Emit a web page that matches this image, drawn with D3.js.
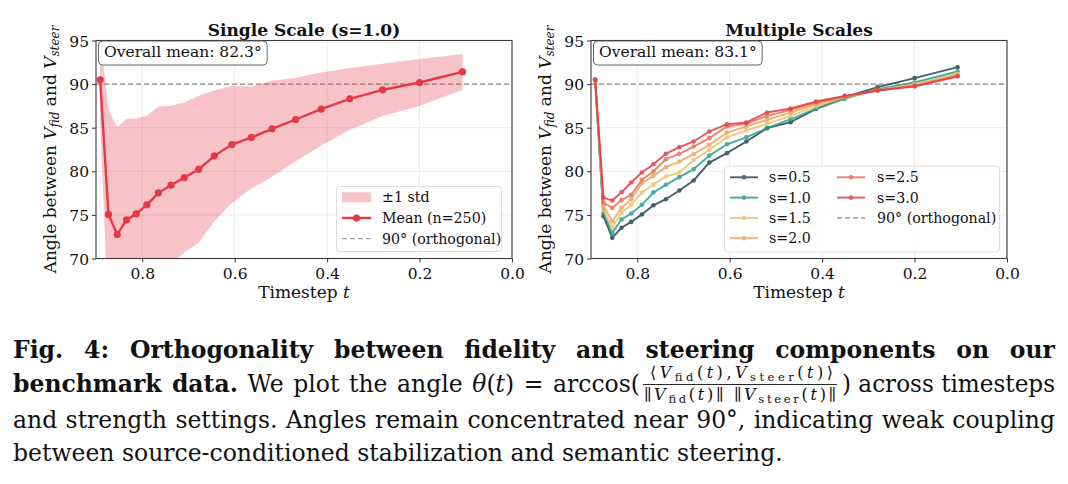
<!DOCTYPE html>
<html>
<head>
<meta charset="utf-8">
<script src="https://cdn.jsdelivr.net/npm/d3@7"></script>
<style>
body { margin: 0; background: #fff; }
</style>
</head>
<body>
<svg id="fig" width="1068" height="484"></svg>
<script>
// timesteps shared by both panels
const timesteps = [0.891, 0.873, 0.854, 0.834, 0.813, 0.790, 0.765, 0.738, 0.709, 0.678,
                   0.644, 0.606, 0.564, 0.519, 0.468, 0.413, 0.351, 0.280, 0.200, 0.107];

// single scale s=1.0: mean and std over 250 samples
const meanS1 = [90.5, 75.05, 72.75, 74.43, 75.12, 76.15, 77.53, 78.41, 79.29, 80.21,
                81.77, 83.07, 83.88, 84.87, 85.94, 87.13, 88.31, 89.34, 90.18, 91.41];
const stdS1 = [5.0, 12.0, 12.3, 11.6, 10.9, 10.25, 9.9, 9.1, 8.6, 8.44,
               7.5, 6.7, 5.85, 5.5, 4.8, 4.2, 3.55, 3.0, 2.7, 2.05];

// multiple scales
const scaleNames = ['s=0.5', 's=1.0', 's=1.5', 's=2.0', 's=2.5', 's=3.0'];
const scaleColors = ['#264653', '#2a9d8f', '#e9c46a', '#f4a261', '#e76f51', '#e63946'];
const s05 = [90.5, 74.85, 72.37, 73.52, 74.2, 75.05, 76.1, 76.8, 77.8, 78.95,
             81.0, 82.08, 83.42, 84.95, 85.63, 87.16, 88.5, 89.65, 90.68, 91.94];
const s10 = [90.5, 75.2, 72.95, 74.47, 75.16, 76.15, 77.57, 78.45, 79.33, 80.24,
             81.8, 83.1, 83.9, 84.95, 85.98, 87.16, 88.3, 89.42, 90.18, 91.44];
const s15 = [90.5, 75.54, 73.52, 75.24, 76.15, 77.57, 78.5, 79.4, 79.86, 81.3,
             82.46, 83.9, 84.68, 85.44, 86.36, 87.43, 88.5, 89.27, 90.0, 91.18];
const s20 = [90.5, 76.0, 74.28, 75.8, 76.8, 78.64, 79.48, 80.47, 81.12, 81.96,
             83.03, 84.45, 85.14, 85.9, 86.74, 87.7, 88.58, 89.27, 89.88, 91.06];
const s25 = [90.5, 76.39, 75.8, 76.69, 77.3, 79.02, 79.98, 81.39, 82.0, 82.84,
             83.8, 85.14, 85.44, 86.36, 87.05, 87.89, 88.58, 89.27, 89.8, 90.95];
const s30 = [90.5, 76.96, 76.65, 77.6, 78.72, 79.86, 80.82, 82.0, 82.77, 83.42,
             84.56, 85.4, 85.6, 86.74, 87.2, 88.0, 88.65, 89.27, 89.73, 90.87];
const scaleSeries = [s05, s10, s15, s20, s25, s30];

const xTicks = [0.8, 0.6, 0.4, 0.2, 0.0];
const yTicks = [70, 75, 80, 85, 90, 95];
const orthogonal = 90;

const serif = "'DejaVu Serif', serif";
const red = '#e63946';
const plotTop = 40.5;
const plotBottom = 258.5;

const svg = d3.select('#fig');

function addYLabel(g, x) {
    const t = g.append('text')
        .attr('transform', `translate(${x},${(plotTop + plotBottom) / 2}) rotate(-90)`)
        .attr('text-anchor', 'middle')
        .attr('font-family', serif)
        .attr('font-size', 17)
        .attr('fill', '#111');
    t.append('tspan').text('Angle between ');
    t.append('tspan').attr('font-style', 'italic').text('V');
    t.append('tspan').attr('font-style', 'italic').attr('font-size', 12).attr('dy', 3).text('fid');
    t.append('tspan').attr('dy', -3).text(' and ');
    t.append('tspan').attr('font-style', 'italic').text('V');
    t.append('tspan').attr('font-style', 'italic').attr('font-size', 12).attr('dy', 3).text('steer');
}

function drawPanel(left, right, title, meanText, id) {
    const x = d3.scaleLinear().domain([0.9, 0]).range([left, right]);
    const y = d3.scaleLinear().domain([70, 95]).range([plotBottom, plotTop]);
    const g = svg.append('g');

    // grid
    g.append('g').selectAll('line').data(xTicks).join('line')
        .attr('x1', d => x(d)).attr('x2', d => x(d))
        .attr('y1', plotTop).attr('y2', plotBottom)
        .attr('stroke', '#e6e6e6').attr('stroke-width', 0.8);
    g.append('g').selectAll('line').data(yTicks).join('line')
        .attr('x1', left).attr('x2', right)
        .attr('y1', d => y(d)).attr('y2', d => y(d))
        .attr('stroke', '#e6e6e6').attr('stroke-width', 0.8);

    g.append('clipPath').attr('id', id)
        .append('rect').attr('x', left).attr('y', plotTop)
        .attr('width', right - left).attr('height', plotBottom - plotTop);

    // axes
    const xAxis = g.append('g')
        .attr('transform', `translate(0,${plotBottom})`)
        .call(d3.axisBottom(x).tickValues(xTicks).tickFormat(d3.format('.1f')).tickSize(4).tickPadding(3));
    const yAxis = g.append('g')
        .attr('transform', `translate(${left},0)`)
        .call(d3.axisLeft(y).tickValues(yTicks).tickSize(4).tickPadding(3));
    [xAxis, yAxis].forEach(a => {
        a.select('.domain').remove();
        a.selectAll('line').attr('stroke', '#333');
        a.selectAll('text').attr('font-family', serif).attr('font-size', 15.5).attr('fill', '#111');
    });
    xAxis.selectAll('text').attr('dy', '0.9em');
    yAxis.selectAll('text').attr('dy', '0.36em');

    // orthogonal reference
    g.append('line')
        .attr('x1', left).attr('x2', right)
        .attr('y1', y(orthogonal)).attr('y2', y(orthogonal))
        .attr('stroke', '#8a8a8a').attr('stroke-width', 1.1).attr('stroke-dasharray', '5,3');

    g.append('text')
        .attr('x', (left + right) / 2).attr('y', 36)
        .attr('text-anchor', 'middle')
        .attr('font-family', serif).attr('font-weight', 'bold').attr('font-size', 17)
        .attr('fill', '#111')
        .text(title);

    const xl = g.append('text')
        .attr('x', (left + right) / 2).attr('y', 297.5)
        .attr('text-anchor', 'middle')
        .attr('font-family', serif).attr('font-size', 17).attr('fill', '#111');
    xl.append('tspan').text('Timestep ');
    xl.append('tspan').attr('font-style', 'italic').text('t');

    addYLabel(g, left - 40);

    return { g, x, y, meanText };
}

function drawFrame(p, left, right) {
    p.g.append('rect')
        .attr('x', left).attr('y', plotTop)
        .attr('width', right - left).attr('height', plotBottom - plotTop)
        .attr('fill', 'none').attr('stroke', '#3a3a3a').attr('stroke-width', 1.1);
    // overall mean box
    const bx = left + 2.5;
    const box = p.g.append('g');
    const txt = box.append('text')
        .attr('x', bx + 5.5).attr('y', 57)
        .attr('font-family', serif).attr('font-size', 15.5).attr('fill', '#111')
        .text(p.meanText);
    const w = txt.node().getComputedTextLength();
    box.insert('rect', 'text')
        .attr('x', bx).attr('y', plotTop + 0.5)
        .attr('width', w + 11).attr('height', 24)
        .attr('rx', 4)
        .attr('fill', 'white').attr('fill-opacity', 0.85)
        .attr('stroke', '#555').attr('stroke-width', 0.9);
}

// ---------- left panel ----------
const L = { left: 96, right: 512 };
const p1 = drawPanel(L.left, L.right, 'Single Scale (s=1.0)', 'Overall mean: 82.3°', 'clipL');
const idx = d3.range(timesteps.length);

p1.g.append('path')
    .datum(idx)
    .attr('clip-path', 'url(#clipL)')
    .attr('fill', red).attr('fill-opacity', 0.3)
    .attr('d', d3.area()
        .x(i => p1.x(timesteps[i]))
        .y0(i => p1.y(meanS1[i] - stdS1[i]))
        .y1(i => p1.y(meanS1[i] + stdS1[i])));

p1.g.append('path')
    .datum(idx)
    .attr('fill', 'none').attr('stroke', red).attr('stroke-width', 2.4)
    .attr('d', d3.line().x(i => p1.x(timesteps[i])).y(i => p1.y(meanS1[i])));
p1.g.append('g').selectAll('circle').data(idx).join('circle')
    .attr('cx', i => p1.x(timesteps[i])).attr('cy', i => p1.y(meanS1[i]))
    .attr('r', 3.6).attr('fill', red);

drawFrame(p1, L.left, L.right);

// left legend
const lg1 = p1.g.append('g');
lg1.append('rect')
    .attr('x', 336.5).attr('y', 186.5).attr('width', 165).attr('height', 65).attr('rx', 3)
    .attr('fill', 'white').attr('fill-opacity', 0.85)
    .attr('stroke', '#d9d9d9').attr('stroke-width', 0.9);
const rowsL = [197.3, 218, 238.7];
lg1.append('rect').attr('x', 342).attr('y', rowsL[0] - 5).attr('width', 29).attr('height', 10)
    .attr('fill', red).attr('fill-opacity', 0.3);
lg1.append('line').attr('x1', 342).attr('x2', 371).attr('y1', rowsL[1]).attr('y2', rowsL[1])
    .attr('stroke', red).attr('stroke-width', 2.4);
lg1.append('circle').attr('cx', 356.5).attr('cy', rowsL[1]).attr('r', 3.6).attr('fill', red);
lg1.append('line').attr('x1', 342).attr('x2', 371).attr('y1', rowsL[2]).attr('y2', rowsL[2])
    .attr('stroke', '#8a8a8a').attr('stroke-width', 1.1).attr('stroke-dasharray', '5,3');
lg1.selectAll('text.lab').data(['±1 std', 'Mean (n=250)', '90° (orthogonal)']).join('text')
    .attr('x', 382).attr('y', (d, i) => rowsL[i] + 5)
    .attr('font-family', serif).attr('font-size', 14.2).attr('fill', '#111')
    .text(d => d);

// ---------- right panel ----------
const R = { left: 591, right: 1007 };
const p2 = drawPanel(R.left, R.right, 'Multiple Scales', 'Overall mean: 83.1°', 'clipR');

scaleSeries.forEach((vals, k) => {
    const sg = p2.g.append('g').attr('opacity', 0.85);
    sg.append('path')
        .datum(idx)
        .attr('fill', 'none').attr('stroke', scaleColors[k]).attr('stroke-width', 1.9)
        .attr('d', d3.line().x(i => p2.x(timesteps[i])).y(i => p2.y(vals[i])));
    sg.selectAll('circle').data(idx).join('circle')
        .attr('cx', i => p2.x(timesteps[i])).attr('cy', i => p2.y(vals[i]))
        .attr('r', 2.3).attr('fill', scaleColors[k]);
});

drawFrame(p2, R.left, R.right);

// right legend
const lg2 = p2.g.append('g');
lg2.append('rect')
    .attr('x', 724.5).attr('y', 166).attr('width', 275).attr('height', 86).attr('rx', 3)
    .attr('fill', 'white').attr('fill-opacity', 0.85)
    .attr('stroke', '#d9d9d9').attr('stroke-width', 0.9);
const rowsR = [177.3, 197.6, 217.9, 238.2];
const legendItems = scaleNames.map((n, k) => ({
    name: n, color: scaleColors[k],
    col: k < 4 ? 0 : 1, row: k < 4 ? k : k - 4
}));
legendItems.push({ name: '90° (orthogonal)', color: '#8a8a8a', col: 1, row: 2, dashed: true });
const colX = [{ h: 730, t: 769 }, { h: 837, t: 877 }];
legendItems.forEach(it => {
    const cx = colX[it.col];
    const yy = rowsR[it.row];
    const ig = lg2.append('g').attr('opacity', it.dashed ? 1 : 0.85);
    ig.append('line').attr('x1', cx.h).attr('x2', cx.h + 28).attr('y1', yy).attr('y2', yy)
        .attr('stroke', it.color).attr('stroke-width', it.dashed ? 1.1 : 1.9)
        .attr('stroke-dasharray', it.dashed ? '5,3' : null);
    if (!it.dashed) {
        ig.append('circle').attr('cx', cx.h + 14).attr('cy', yy).attr('r', 2.3).attr('fill', it.color);
    }
    lg2.append('text').attr('x', cx.t).attr('y', yy + 5)
        .attr('font-family', serif).attr('font-size', 14.2).attr('fill', '#111')
        .text(it.name);
});

// ---------- caption ----------
const capSize = 23.5;
const capLeft = 13;
const capRight = 1055;
const capColor = '#111';
const cg = svg.append('g')
    .attr('font-family', serif)
    .attr('font-size', capSize).attr('fill', capColor);

// stretch the spaces of a line so that it fills the given width
function justify(t, width) {
    const w = t.node().getComputedTextLength();
    const n = (t.text().match(/ /g) || []).length;
    if (w < width && n > 0) {
        t.style('word-spacing', ((width - w) / n) + 'px');
    } else if (w > width) {
        t.attr('textLength', width).attr('lengthAdjust', 'spacingAndGlyphs');
    }
}
// spread the glyphs of a short formula to the given width
function spread(t, width) {
    const w = t.node().getComputedTextLength();
    t.attr('textLength', width).attr('lengthAdjust', w > width ? 'spacingAndGlyphs' : 'spacing');
}

const line1 = cg.append('text').attr('x', capLeft).attr('y', 358)
    .attr('font-weight', 'bold')
    .text('Fig. 4: Orthogonality between fidelity and steering components on our');
justify(line1, capRight - capLeft);

// line 2 with the fraction
const l2y = 392;
const l2a = cg.append('text').attr('x', capLeft).attr('y', l2y);
l2a.append('tspan').attr('font-weight', 'bold').text('benchmark data.');
l2a.append('tspan').text(' We plot the angle ');
l2a.append('tspan').attr('font-style', 'italic').text('θ');
l2a.append('tspan').text('(');
l2a.append('tspan').attr('font-style', 'italic').text('t');
l2a.append('tspan').text(') = arccos(');
justify(l2a, 640 - capLeft);

const fracL = 643, fracR = 837;
const fs = 16, ss = 11.5;
const num = cg.append('text').attr('x', 650).attr('y', 378).attr('font-size', fs);
num.append('tspan').text('⟨');
num.append('tspan').attr('font-style', 'italic').text('V');
num.append('tspan').attr('font-size', ss).attr('dy', 3).text('fid');
num.append('tspan').attr('dy', -3).text('(');
num.append('tspan').attr('font-style', 'italic').text('t');
num.append('tspan').text('),');
num.append('tspan').attr('font-style', 'italic').text('V');
num.append('tspan').attr('font-size', ss).attr('dy', 3).text('steer');
num.append('tspan').attr('dy', -3).text('(');
num.append('tspan').attr('font-style', 'italic').text('t');
num.append('tspan').text(')⟩');
spread(num, 183);
const den = cg.append('text').attr('x', fracL + 1).attr('y', 400).attr('font-size', fs);
den.append('tspan').text('∥');
den.append('tspan').attr('font-style', 'italic').text('V');
den.append('tspan').attr('font-size', ss).attr('dy', 3).text('fid');
den.append('tspan').attr('dy', -3).text('(');
den.append('tspan').attr('font-style', 'italic').text('t');
den.append('tspan').text(')∥ ∥');
den.append('tspan').attr('font-style', 'italic').text('V');
den.append('tspan').attr('font-size', ss).attr('dy', 3).text('steer');
den.append('tspan').attr('dy', -3).text('(');
den.append('tspan').attr('font-style', 'italic').text('t');
den.append('tspan').text(')∥');
spread(den, 192);
cg.append('line')
    .attr('x1', fracL).attr('x2', fracR)
    .attr('y1', 384.5).attr('y2', 384.5)
    .attr('stroke', capColor).attr('stroke-width', 0.9);

const l2c = cg.append('text').attr('x', 842).attr('y', l2y)
    .text(') across timesteps');
justify(l2c, capRight - 842);

const line3 = cg.append('text').attr('x', capLeft).attr('y', 428)
    .text('and strength settings. Angles remain concentrated near 90°, indicating weak coupling');
justify(line3, capRight - capLeft);
cg.append('text').attr('x', capLeft).attr('y', 461)
    .text('between source-conditioned stabilization and semantic steering.');
</script>
</body>
</html>
